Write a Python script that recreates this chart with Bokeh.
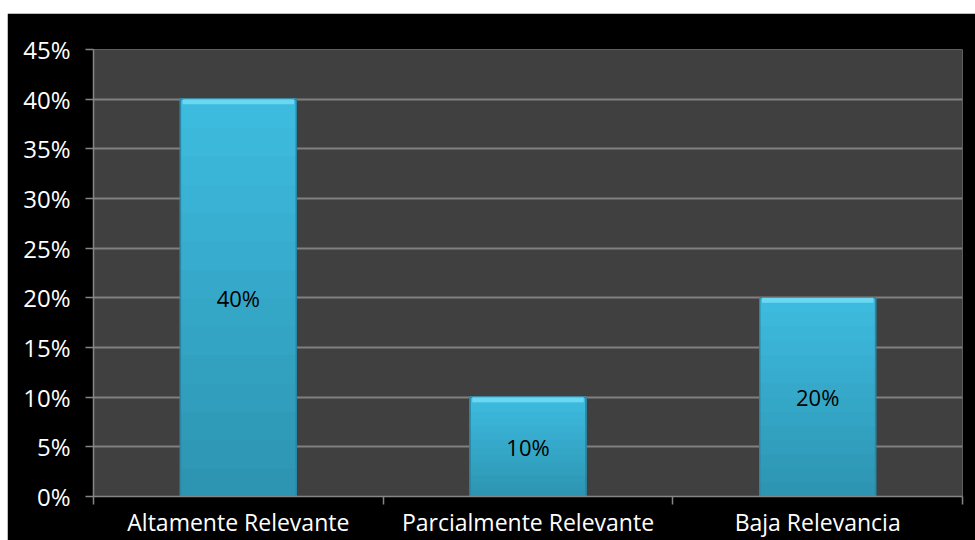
from bokeh.plotting import figure
from bokeh.models import (Range1d, FixedTicker, NumeralTickFormatter, ColumnDataSource,
                          LabelSet, Spacer)
from bokeh.layouts import column, row
from bokeh.core.properties import value
from bokeh.embed import file_html
from bokeh.resources import INLINE

categories = ["Altamente Relevante", "Parcialmente Relevante", "Baja Relevancia"]
values = [0.40, 0.10, 0.20]
value_labels = ["40%", "10%", "20%"]
y_ticks = [0.0, 0.05, 0.10, 0.15, 0.20, 0.25, 0.30, 0.35, 0.40, 0.45]

FONT = "Open Sans"

n = len(categories)
xc = [i + 0.5 for i in range(n)]

p = figure(width=968, height=527, output_backend="svg", toolbar_location=None,
           x_range=Range1d(0, n), y_range=Range1d(0, 0.45),
           min_border_left=86, min_border_right=13, min_border_top=36, min_border_bottom=43)
p.background_fill_color = "#404040"
p.border_fill_color = "#000000"
p.outline_line_color = None

# bars with a vertical shading (bottom darker, top lighter)
top_rgb = (0x3e, 0xbd, 0xe1)
bot_rgb = (0x2d, 0x94, 0xb1)
steps = 14
for k in range(steps):
    t = (k + 0.5) / steps
    col = "#%02x%02x%02x" % tuple(int(b + (a - b) * t) for a, b in zip(top_rgb, bot_rgb))
    p.vbar(x=xc, bottom=[v * k / steps for v in values], top=[v * (k + 1) / steps for v in values],
           width=0.4, fill_color=col, line_color=col, line_width=1.2)

src = ColumnDataSource(dict(x=xc, top=values, mid=[v / 2 for v in values], lab=value_labels,
                            hl=[v - 0.005 for v in values]))
p.vbar(x="x", top="top", bottom=0, width=0.4, source=src,
       fill_color=None, line_color="#2a86a3", line_width=1.5)
p.vbar(x="x", top="top", bottom="hl", width=0.385, source=src,
       fill_color="#6ad8f3", line_color=None)

p.add_layout(LabelSet(x="x", y="mid", text="lab", source=src, text_align="center",
                      text_baseline="middle", text_color="black", text_font=value(FONT),
                      text_font_size="22px"))

# y axis
p.yaxis.ticker = FixedTicker(ticks=y_ticks)
p.yaxis.formatter = NumeralTickFormatter(format="0%")
p.yaxis.major_label_text_color = "white"
p.yaxis.major_label_text_font = FONT
p.yaxis.major_label_text_font_size = "24px"
p.yaxis.major_label_standoff = 15
p.yaxis.axis_line_color = "#868686"
p.yaxis.axis_line_width = 1.5
p.yaxis.major_tick_line_color = "#868686"
p.yaxis.major_tick_line_width = 1.5
p.yaxis.major_tick_out = 8
p.yaxis.major_tick_in = 0
p.yaxis.minor_tick_line_color = None

# x axis: labels at category centres, tick marks at category boundaries
p.xaxis.ticker = FixedTicker(ticks=xc, minor_ticks=list(range(n + 1)))
p.xaxis.major_label_overrides = {x: c for x, c in zip(xc, categories)}
p.xaxis.major_label_text_color = "white"
p.xaxis.major_label_text_font = FONT
p.xaxis.major_label_text_font_size = "23px"
p.xaxis.major_label_standoff = 1
p.xaxis.major_tick_line_color = None
p.xaxis.major_tick_out = 0
p.xaxis.major_tick_in = 0
p.xaxis.minor_tick_line_color = "#868686"
p.xaxis.minor_tick_line_width = 1.5
p.xaxis.minor_tick_out = 8
p.xaxis.minor_tick_in = 0
p.xaxis.axis_line_color = "#868686"
p.xaxis.axis_line_width = 1.5

p.xgrid.grid_line_color = None
p.ygrid.ticker = FixedTicker(ticks=y_ticks)
p.ygrid.grid_line_color = "#808080"
p.ygrid.grid_line_width = 2

layout = column(Spacer(width=975, height=13), row(Spacer(width=7, height=527), p))
open("out.html", "w").write(file_html(layout, INLINE))
